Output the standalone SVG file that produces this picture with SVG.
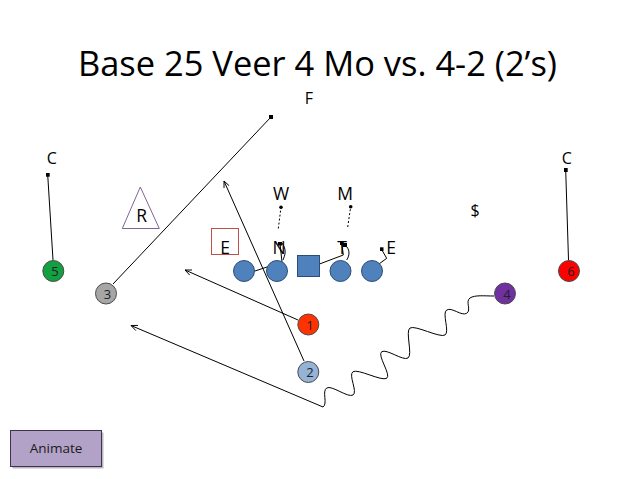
<svg xmlns="http://www.w3.org/2000/svg" width="638" height="479" viewBox="0 0 638 479">
<style>
.lbl{font-family:"Open Sans","Liberation Sans",sans-serif;font-size:17.5px;fill:#000;text-anchor:middle}
.sm{font-size:16px}
.num{font-family:"Open Sans","Liberation Sans",sans-serif;font-size:13px;fill:#222;text-anchor:middle}
.ol{stroke:#4a4a4a;stroke-width:1}
.lm{fill:#4F81BD;stroke:#2C4D75;stroke-width:1}
.cn{fill:none;stroke:#000;stroke-width:1}
.dash{fill:none;stroke:#000;stroke-width:1;stroke-dasharray:2 2}
</style>
<defs>
<marker id="arr" viewBox="0 0 10 10" refX="9" refY="5" markerWidth="8" markerHeight="8" orient="auto" markerUnits="userSpaceOnUse">
<path d="M1,1.5 L9,5 L1,8.5" fill="none" stroke="#000" stroke-width="1.1"/>
</marker>
<marker id="dot" viewBox="0 0 4 4" refX="2" refY="2" markerWidth="4" markerHeight="4" markerUnits="userSpaceOnUse">
<rect x="0" y="0" width="4" height="4" fill="#000"/>
</marker>
</defs>
<rect width="638" height="479" fill="#fff"/>
<text x="317.5" y="76" font-family="'Open Sans','Liberation Sans',sans-serif" font-size="35.5" text-anchor="middle" textLength="479" lengthAdjust="spacingAndGlyphs" fill="#000">Base 25 Veer 4 Mo vs. 4-2 (2’s)</text>

<g id="connectors">
<path class="cn" d="M113,284 L271,117" marker-end="url(#dot)"/>
<path class="cn" d="M298,320 L185,270" marker-end="url(#arr)"/>
<path class="cn" d="M304,361 L224,181" marker-end="url(#arr)"/>
<path class="cn" d="M494,296 C484,296 475,294.8 470,298 C465,301.2 471.7,310.1 466.7,313.3 C461.7,316.5 451.7,306.8 446.7,310 C441.7,313.2 450,331.8 445,335 C440,338.2 415,324.8 410,328 C405,331.2 413,354.8 408,358 C403,361.2 386.7,348.5 381.7,351.7 C376.7,354.9 391.7,375.1 386.7,378.3 C381.7,381.5 358,368.5 353,371.7 C348,374.9 358,391.8 353,395 C348,398.2 331.7,384.8 326.7,388 C321.7,391.2 328,403.8 323,407 L131,325.5" marker-end="url(#arr)"/>
<path class="cn" d="M53,260 L47.7,174.7" marker-end="url(#dot)"/>
<path class="cn" d="M568.5,260 L565.7,170" marker-end="url(#dot)"/>
<path class="dash" d="M278.3,228.5 L281,207.3"/>
<path class="dash" d="M347.7,227 L350.7,206.7"/>
<path class="cn" d="M255,271 L282,262 L280,243.5" marker-end="url(#dot)"/>
<path class="cn" d="M283,260 C285,255 287,250 282,243"/>
<path class="cn" d="M319.5,264 L343.3,255 L341.7,243.3" marker-end="url(#dot)"/>
<path class="cn" d="M346.7,260 C350,255 350,249 345,245" marker-end="url(#dot)"/>
<path class="cn" d="M379,264 L386.7,258.3 L381.5,249.3" marker-end="url(#dot)"/>
<circle cx="281" cy="207.3" r="1.8" fill="#000"/>
<circle cx="350.7" cy="206.7" r="1.8" fill="#000"/>
</g>

<g id="title-F"><text class="lbl sm" x="309" y="104">F</text></g>
<g id="CB-left"><text class="lbl sm" x="51.7" y="163.5">C</text></g>
<g id="CB-right"><text class="lbl sm" x="566.7" y="163.5">C</text></g>
<g id="W"><text class="lbl" x="281" y="200">W</text></g>
<g id="M"><text class="lbl" x="345" y="200">M</text></g>
<g id="S"><text class="lbl sm" x="475" y="216">$</text></g>
<g id="R">
<polygon points="140.3,187 122.3,228.5 159.3,228.5" fill="none" stroke="#7F6497" stroke-width="1"/>
<text class="lbl" x="141.7" y="222">R</text>
</g>
<g id="E-left">
<rect x="211.5" y="228.5" width="27" height="26" fill="none" stroke="#C0504D" stroke-width="1"/>
<text class="lbl" x="225" y="253.5">E</text>
</g>
<g id="N"><text class="lbl" x="279" y="253.5">N</text></g>
<g id="T"><text class="lbl" x="342" y="253.5">T</text></g>
<g id="E-right"><text class="lbl" x="391" y="253.5">E</text></g>

<g id="LT"><circle class="lm" cx="244" cy="271" r="10.5"/></g>
<g id="LG"><circle class="lm" cx="277" cy="271" r="10.5"/></g>
<g id="C"><rect class="lm" x="297.5" y="255.5" width="22" height="21"/></g>
<g id="RG"><circle class="lm" cx="340.5" cy="271" r="10.5"/></g>
<g id="RT"><circle class="lm" cx="372" cy="271" r="10.5"/></g>

<g id="p5"><circle class="ol" cx="53.3" cy="271" r="10.5" fill="#12A040"/><text class="num" x="55" y="276">5</text></g>
<g id="p3"><circle class="ol" cx="106" cy="293.5" r="10.5" fill="#A6A6A6"/><text class="num" x="107.5" y="298.5">3</text></g>
<g id="p1"><circle class="ol" cx="308.3" cy="324.5" r="10.5" fill="#FF3300"/><text class="num" x="310" y="329.5">1</text></g>
<g id="p2"><circle class="ol" cx="308.3" cy="372" r="10.5" fill="#95B3D7"/><text class="num" x="310" y="377">2</text></g>
<g id="p4"><circle class="ol" cx="505" cy="293.5" r="10.5" fill="#7030A0"/><text class="num" x="507" y="298.5">4</text></g>
<g id="p6"><circle class="ol" cx="569" cy="271" r="10.5" fill="#FF0000"/><text class="num" x="571" y="276">6</text></g>

<g id="animate">
<rect x="12.5" y="432.5" width="91" height="36" fill="#7f7f7f" opacity="0.55"/>
<rect x="10.5" y="430.5" width="91" height="36" fill="#B3A2C7" stroke="#3F3151" stroke-width="1"/>
<text x="56" y="453" font-family="'Open Sans','Liberation Sans',sans-serif" font-size="13.5" text-anchor="middle" fill="#1a1a1a">Animate</text>
</g>
</svg>
